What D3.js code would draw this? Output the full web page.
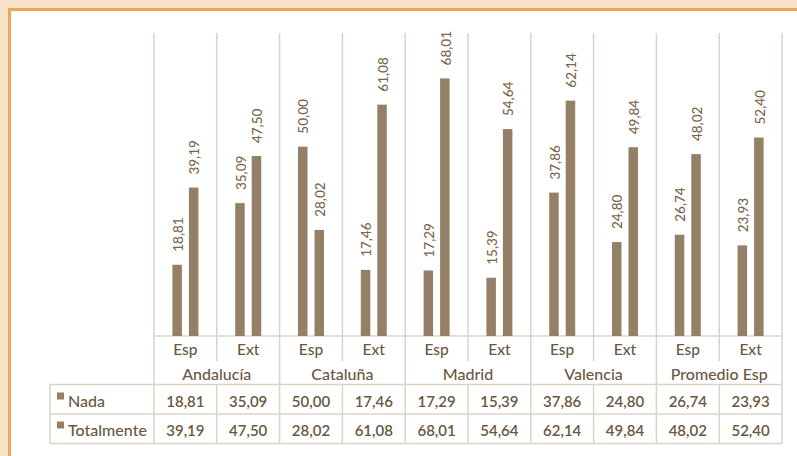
<!DOCTYPE html>
<html><head><meta charset="utf-8">
<script src="https://cdn.jsdelivr.net/npm/d3@7"></script>
<style>
html,body{margin:0;padding:0;background:#f8e1c4;}
svg{display:block;font-family:Lato,"Open Sans",sans-serif;}
</style></head>
<body>
<svg id="c" width="797" height="456"></svg>
<script>
const groups = ["Andalucía","Cataluña","Madrid","Valencia","Promedio Esp"];
const subs = ["Esp","Ext"];
const seriesNames = ["Nada","Totalmente"];
const nada = [18.81,35.09,50.00,17.46,17.29,15.39,37.86,24.80,26.74,23.93];
const totalmente = [39.19,47.50,28.02,61.08,68.01,54.64,62.14,49.84,48.02,52.40];

const fmt = v => d3.format(".2f")(v).replace(".", ",");
const cats = [];
groups.forEach(g => subs.forEach(s => cats.push(g + "|" + s)));
const series = [nada, totalmente];

const svg = d3.select("#c");
const barColor = "#948067", gridColor = "#dcd3c7", txt = "#6a5842", lbl = "#7a664c";

// panel
svg.append("rect").attr("x",9.5).attr("y",9.5).attr("width",800).attr("height",460)
  .attr("fill","#fff").attr("stroke","#e9a85a").attr("stroke-width",3);

const x0 = 154, x1e = 782, yTop = 33, yBase = 336;
const x = d3.scaleBand().domain(cats).range([x0, x1e]);
const xs = d3.scaleBand().domain(seriesNames).range([0, x.bandwidth()]).paddingInner(0.424).paddingOuter(1.115);
const y = d3.scaleLinear().domain([0, 80]).range([yBase, yTop]);

const groupX = d3.scaleBand().domain(groups).range([x0, x1e]);

// grid and table lines
const gLines = svg.append("g").attr("stroke", gridColor).attr("stroke-width", 1.5);
cats.forEach((c, i) => {
  const xx = x(c);
  if (i % 2 === 0) {
    gLines.append("line").attr("x1",xx).attr("x2",xx).attr("y1",yTop).attr("y2",443.5);
  } else {
    gLines.append("line").attr("x1",xx).attr("x2",xx).attr("y1",yTop).attr("y2",361);
    gLines.append("line").attr("x1",xx).attr("x2",xx).attr("y1",384.5).attr("y2",443.5);
  }
});
gLines.append("line").attr("x1",x1e).attr("x2",x1e).attr("y1",yTop).attr("y2",443.5);
gLines.append("line").attr("x1",x0).attr("x2",x1e).attr("y1",yBase).attr("y2",yBase);
[384.5, 414, 443.5].forEach(yy => gLines.append("line").attr("x1",50).attr("x2",x1e).attr("y1",yy).attr("y2",yy));
gLines.append("line").attr("x1",50).attr("x2",50).attr("y1",384.5).attr("y2",443.5);

// bars
series.forEach((vals, si) => {
  const g = svg.append("g");
  g.selectAll("rect").data(vals).join("rect")
    .attr("x", (d,i) => x(cats[i]) + xs(seriesNames[si]))
    .attr("width", xs.bandwidth())
    .attr("y", d => y(d))
    .attr("height", d => yBase - y(d))
    .attr("fill", barColor);
  g.selectAll("text").data(vals).join("text")
    .attr("transform", (d,i) => `translate(${x(cats[i]) + xs(seriesNames[si]) + xs.bandwidth()/2 + 1},${y(d) - 13}) rotate(-90)`)
    .attr("dy", "0.35em")
    .attr("font-size", 13.5).attr("font-weight", 500).attr("fill", lbl)
    .text(d => fmt(d));
});

// header rows
svg.append("g").selectAll("text").data(cats).join("text")
  .attr("x", c => x(c) + x.bandwidth()/2).attr("y", 350).attr("dy","0.35em")
  .attr("text-anchor","middle").attr("font-size",15.5).attr("font-weight",500).attr("fill",txt)
  .text(c => c.split("|")[1]);
svg.append("g").selectAll("text").data(groups).join("text")
  .attr("x", g => groupX(g) + groupX.bandwidth()/2).attr("y", 374).attr("dy","0.35em")
  .attr("text-anchor","middle").attr("font-size",16).attr("font-weight",500).attr("fill",txt)
  .text(g => g);

// data rows
const rowY = [401.5, 430.5];
series.forEach((vals, si) => {
  svg.append("rect").attr("x",57).attr("y",rowY[si]-9).attr("width",7).attr("height",7).attr("fill",barColor);
  svg.append("text").attr("x",68).attr("y",rowY[si]).attr("dy","0.35em")
    .attr("font-size",16).attr("font-weight",500).attr("fill",txt).text(seriesNames[si]);
  svg.append("g").selectAll("text").data(vals).join("text")
    .attr("x",(d,i) => x(cats[i]) + x.bandwidth()/2).attr("y", rowY[si]).attr("dy","0.35em")
    .attr("text-anchor","middle").attr("font-size",15).attr("font-weight",600).attr("fill",txt)
    .text(d => fmt(d));
});
</script>
</body></html>
